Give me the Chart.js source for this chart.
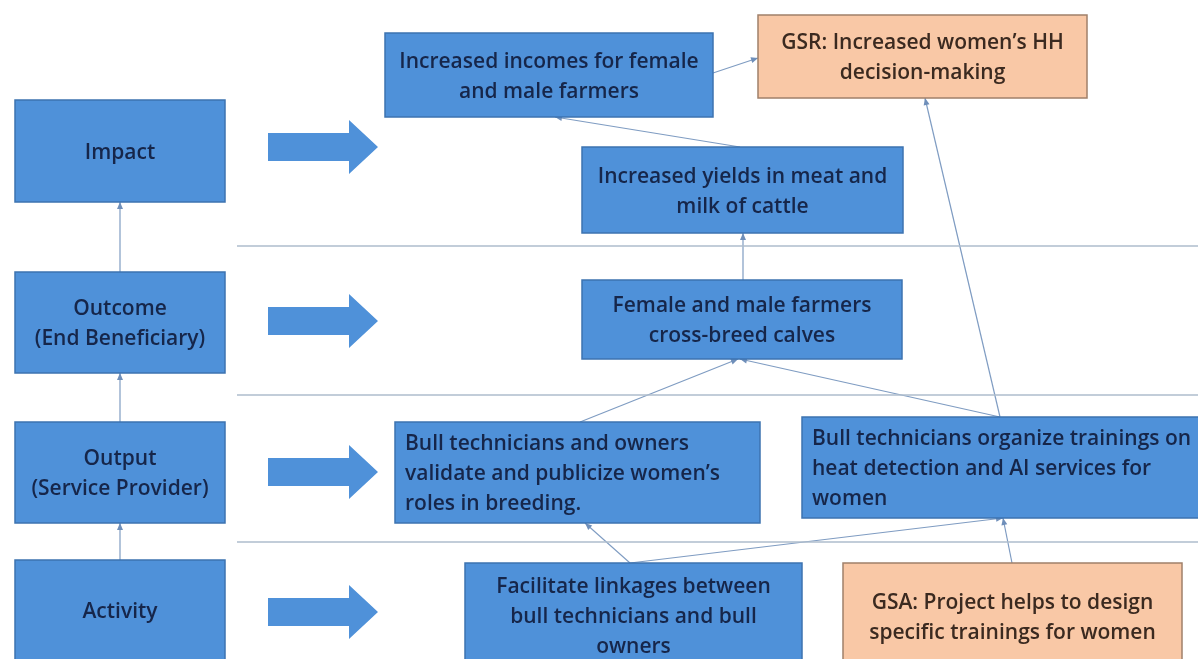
<!DOCTYPE html>
<html>
<head>
<meta charset="utf-8">
<script src="https://cdn.jsdelivr.net/npm/chart.js@4"></script>
<style>
    html, body { margin: 0; padding: 0; background: #fff; overflow: hidden; }
    #diagram { display: block; }
</style>
</head>
<body>
<canvas id="diagram" width="1198" height="659"></canvas>
<script>
// Texts of the boxes
const levelTexts = [
    ['Impact'],
    ['Outcome', '(End Beneficiary)'],
    ['Output', '(Service Provider)'],
    ['Activity']
];
const resultTexts = [
    ['Increased incomes for female', 'and male farmers'],
    ['Increased yields in meat and', 'milk of cattle'],
    ['Female and male farmers', 'cross-breed calves'],
    ['Bull technicians and owners', 'validate and publicize women\u2019s', 'roles in breeding.'],
    ['Bull technicians organize trainings on', 'heat detection and AI services for', 'women'],
    ['Facilitate linkages between', 'bull technicians and bull', 'owners']
];
const genderTexts = [
    ['GSR: Increased women\u2019s HH', 'decision-making'],
    ['GSA: Project helps to design', 'specific trainings for women']
];

// Layout (diagram units = pixels of the 1198x659 picture)
const levelRects = [[15, 100, 225, 202], [15, 272, 225, 373], [15, 422, 225, 523], [15, 560, 225, 660]];
const resultRects = [[385, 33, 713, 117], [582, 147, 903, 233], [582, 280, 902, 359],
                     [395, 422, 760, 523], [802, 417, 1210, 518], [465, 563, 802, 667]];
const resultAlign = ['center', 'center', 'center', 'left', 'left', 'center'];
const genderRects = [[758, 15, 1087, 98], [843, 563, 1182, 669]];
const blockArrowRows = [147, 321, 472, 612];
const separatorRows = [246, 395, 542];

// Connectors: [fromX, fromY, toX, toY], arrow head at the "to" end
const links = [
    [120, 560, 120, 523],
    [120, 422, 120, 373],
    [120, 272, 120, 202],
    [713, 73, 758, 58],
    [740, 147, 555, 117],
    [743, 280, 743, 233],
    [580, 422, 738, 359],
    [1000, 417, 740, 359],
    [1000, 417, 925, 98],
    [630, 563, 585, 523],
    [630, 563, 1003, 518],
    [1012, 563, 1003, 518]
];

const BLUE = '#4f91d9';
const BLUE_EDGE = '#3d73b0';
const PEACH = '#f9c8a6';
const PEACH_EDGE = '#a0806a';
const FONT = '600 21px "Open Sans", Lato, sans-serif';

const datasets = [];
separatorRows.forEach(row => {
    datasets.push({
        data: [{ x: 237, y: row }, { x: 1198, y: row }],
        borderColor: '#aebccc',
        borderWidth: 1.5,
        pointRadius: 0
    });
});
links.forEach(l => {
    datasets.push({
        data: [{ x: l[0], y: l[1] }, { x: l[2], y: l[3] }],
        borderColor: '#7f9cc2',
        borderWidth: 1.2,
        pointRadius: 0,
        isLink: true
    });
});

function drawBox(ctx, x, y, rect, fill, edge, lines, align, color) {
    const left = x.getPixelForValue(rect[0]);
    const top = y.getPixelForValue(rect[1]);
    const right = x.getPixelForValue(rect[2]);
    const bottom = y.getPixelForValue(rect[3]);
    ctx.fillStyle = fill;
    ctx.fillRect(left, top, right - left, bottom - top);
    ctx.strokeStyle = edge;
    ctx.lineWidth = 1.5;
    ctx.strokeRect(left, top, right - left, bottom - top);

    const lineHeight = 30;
    const midY = (top + bottom) / 2 + 2;
    const startY = midY - (lines.length - 1) * lineHeight / 2;
    ctx.fillStyle = color;
    ctx.font = FONT;
    ctx.textBaseline = 'middle';
    ctx.textAlign = align;
    const tx = align === 'left' ? left + 10 : (left + right) / 2;
    lines.forEach((line, i) => ctx.fillText(line, tx, startY + i * lineHeight));
}

const diagramPlugin = {
    id: 'diagram',
    afterDatasetsDraw(chart) {
        const { ctx, scales: { x, y } } = chart;
        ctx.save();

        // small arrow heads on connectors
        chart.data.datasets.forEach(ds => {
            if (!ds.isLink) return;
            const p0 = ds.data[0], p1 = ds.data[1];
            const x0 = x.getPixelForValue(p0.x), y0 = y.getPixelForValue(p0.y);
            const x1 = x.getPixelForValue(p1.x), y1 = y.getPixelForValue(p1.y);
            const a = Math.atan2(y1 - y0, x1 - x0);
            ctx.fillStyle = '#6f8fba';
            ctx.beginPath();
            ctx.moveTo(x1, y1);
            ctx.lineTo(x1 - 7 * Math.cos(a) + 3 * Math.sin(a), y1 - 7 * Math.sin(a) - 3 * Math.cos(a));
            ctx.lineTo(x1 - 7 * Math.cos(a) - 3 * Math.sin(a), y1 - 7 * Math.sin(a) + 3 * Math.cos(a));
            ctx.closePath();
            ctx.fill();
        });

        // block arrows between levels and results
        blockArrowRows.forEach(row => {
            const cy = y.getPixelForValue(row);
            const xs = x.getPixelForValue(268), xh = x.getPixelForValue(349), xt = x.getPixelForValue(378);
            ctx.fillStyle = BLUE;
            ctx.beginPath();
            ctx.moveTo(xs, cy - 14);
            ctx.lineTo(xh, cy - 14);
            ctx.lineTo(xh, cy - 27);
            ctx.lineTo(xt, cy);
            ctx.lineTo(xh, cy + 27);
            ctx.lineTo(xh, cy + 14);
            ctx.lineTo(xs, cy + 14);
            ctx.closePath();
            ctx.fill();
        });

        levelRects.forEach((r, i) => drawBox(ctx, x, y, r, BLUE, BLUE_EDGE, levelTexts[i], 'center', '#16264a'));
        resultRects.forEach((r, i) => drawBox(ctx, x, y, r, BLUE, BLUE_EDGE, resultTexts[i], resultAlign[i], '#16264a'));
        genderRects.forEach((r, i) => drawBox(ctx, x, y, r, PEACH, PEACH_EDGE, genderTexts[i], 'center', '#3b2a20'));

        ctx.restore();
    }
};

new Chart(document.getElementById('diagram'), {
    type: 'line',
    data: { datasets },
    options: {
        responsive: false,
        animation: false,
        devicePixelRatio: 1,
        layout: { padding: 0 },
        scales: {
            x: { type: 'linear', min: 0, max: 1198, display: false },
            y: { type: 'linear', min: 0, max: 659, reverse: true, display: false }
        },
        plugins: {
            legend: { display: false },
            tooltip: { enabled: false }
        }
    },
    plugins: [diagramPlugin]
});
</script>
</body>
</html>
